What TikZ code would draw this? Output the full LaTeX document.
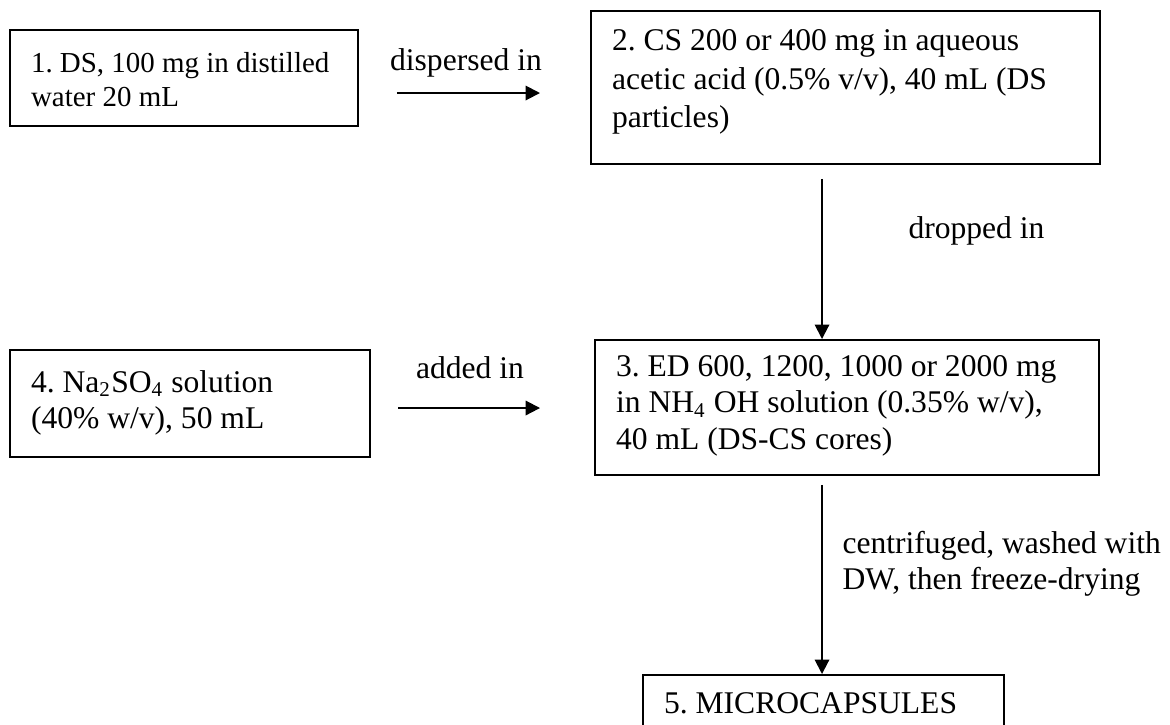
\documentclass[tikz,border=0pt]{standalone}
\usepackage{fontspec}
\setmainfont{Liberation Serif}
\usetikzlibrary{arrows.meta}
\frenchspacing

\begin{document}
\begin{tikzpicture}[x=0.38pt,y=-0.38pt,
	stage/.style={draw,line width=0.75pt,anchor=north west,align=flush left,inner xsep=8pt,inner ysep=0pt,font=\fontsize{12}{14}\selectfont},
	flow/.style={line width=0.75pt,-{Triangle[length=5.5pt,width=5.5pt]}},
	note/.style={inner sep=0pt,font=\fontsize{12}{14}\selectfont}]
	\useasboundingbox (0,0) rectangle (1170,724);
	\coordinate (axis) at (822,0);
	\node[stage,font=\fontsize{11}{12.9}\selectfont,text width=116.2pt,text height=16.3pt,text depth=20.1pt] (ds) at (9,29) {1. DS, 100 mg in distilled\\water 20 mL};
	\node[stage,font=\fontsize{12}{14.5}\selectfont,text width=177.4pt,text height=15.2pt,text depth=42.9pt] (cs) at (590,10) {2. CS 200 or 400 mg in aqueous\\acetic acid (0.5\% v/v), 40 mL (DS\\particles)};
	\node[stage,text width=175.5pt,text height=13.7pt,text depth=37.6pt] (ed) at (594,339) {3. ED 600, 1200, 1000 or 2000 mg\\in NH\textsubscript{4} OH solution (0.35\% w/v),\\40 mL (DS-CS cores)};
	\node[stage,text width=120.8pt,text height=16pt,text depth=24.7pt] (na) at (9,349) {4. Na\textsubscript{2}SO\textsubscript{4} solution\\(40\% w/v), 50 mL};
	\node[stage,text width=121.2pt,text height=14.8pt,text depth=12pt] (mc) at (642,674) {5. MICROCAPSULES};
	\node[note,anchor=base] (lbdisp) at (466,70) {dispersed in};
	\node[note,anchor=base] (lbadd) at (470,378) {added in};
	\node[note,anchor=base west] (lbdrop) at (908,238) {dropped in};
	\node[note,anchor=base west,align=flush left,text width=130pt] (lbwash) at (842,553) {centrifuged, washed with\\DW, then freeze-drying};
	\draw[flow,shorten <=14.4pt,shorten >=19pt] (ds.east |- 0,93) -- (cs.west |- 0,93);
	\draw[flow,shorten <=5.3pt] (axis |- cs.south) -- (axis |- ed.north);
	\draw[flow,shorten <=10.3pt,shorten >=20.5pt] (na.east |- 0,408) -- (ed.west |- 0,408);
	\draw[flow,shorten <=3.4pt] (axis |- ed.south) -- (axis |- mc.north);
\end{tikzpicture}
\end{document}
